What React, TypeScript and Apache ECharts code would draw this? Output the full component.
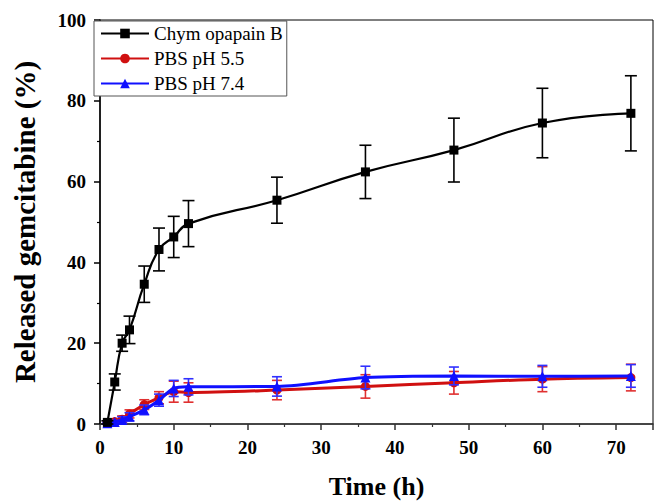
import React, { useEffect, useRef } from "react";
import * as echarts from "echarts";

const times = [1, 2, 3, 4, 6, 8, 10, 12, 24, 36, 48, 60, 72];
const chymo = [0.4, 10.4, 20, 23.3, 34.6, 43.2, 46.3, 49.6, 55.4, 62.4, 67.8, 74.5, 76.9];
const chymoErr = [0.4, 2, 2, 3.4, 4.5, 5.3, 5.1, 5.7, 5.7, 6.6, 7.9, 8.6, 9.3];
const ph55 = [0.3, 0.6, 1.2, 2.5, 4.8, 6.5, 8.0, 7.8, 8.4, 9.3, 10.2, 11.1, 11.5];
const ph55Err = [0.3, 0.5, 0.8, 1, 1.2, 1.5, 2.6, 2.4, 2.4, 2.9, 2.8, 3.1, 3.3];
const ph74 = [0.2, 0.5, 1.0, 1.8, 3.5, 5.9, 8.8, 9.2, 9.3, 11.5, 11.9, 11.8, 11.9];
const ph74Err = [0.2, 0.4, 0.8, 1, 1.2, 1.5, 2, 2, 2.4, 2.8, 2.2, 2.7, 2.8];
const names = ["Chym opapain B", "PBS pH 5.5", "PBS pH 7.4"];
const colors = ["#000000", "#d01010", "#1010ff"];

const FONT = "Liberation Serif";

function errSeries(vals: number[], errs: number[], color: string, cap: number, z: number) {
  return {
    type: "custom",
    name: "err",
    z,
    silent: true,
    data: times.map((t, i) => [t, vals[i] - errs[i], vals[i] + errs[i]]),
    encode: { x: 0, y: [1, 2] },
    renderItem: (params: any, api: any) => {
      const x = api.value(0);
      const lo = api.coord([x, api.value(1)]);
      const hi = api.coord([x, api.value(2)]);
      const st = { stroke: color, lineWidth: 1.6 };
      return {
        type: "group",
        children: [
          { type: "line", shape: { x1: lo[0], y1: lo[1], x2: hi[0], y2: hi[1] }, style: st },
          { type: "line", shape: { x1: lo[0] - cap, y1: lo[1], x2: lo[0] + cap, y2: lo[1] }, style: st },
          { type: "line", shape: { x1: hi[0] - cap, y1: hi[1], x2: hi[0] + cap, y2: hi[1] }, style: st },
        ],
      };
    },
  };
}

export default function App() {
  const ref = useRef<HTMLDivElement>(null);
  useEffect(() => {
    const chart = echarts.init(ref.current!, null, { renderer: "svg" });
    const axisLabel = {
      fontFamily: FONT,
      fontWeight: "bold",
      fontSize: 19,
      color: "#000",
      margin: 14,
      showMaxLabel: false,
    };
    chart.setOption({
      animation: false,
      backgroundColor: "#fff",
      textStyle: { fontFamily: FONT },
      grid: { left: 100, right: 1, top: 20, bottom: 77, show: true, borderColor: "#000", borderWidth: 1 },
      legend: {
        data: names,
        orient: "vertical",
        left: 94,
        top: 21,
        padding: [3, 4, 3, 6],
        itemGap: 6,
        itemWidth: 48,
        itemHeight: 12,
        borderColor: "#555",
        borderWidth: 1,
        backgroundColor: "#fff",
        textStyle: { fontFamily: FONT, fontSize: 19, color: "#000" },
      },
      xAxis: {
        type: "value",
        min: 0,
        max: 75,
        interval: 10,
        name: "Time (h)",
        nameLocation: "middle",
        nameGap: 49,
        nameTextStyle: { fontFamily: FONT, fontWeight: "bold", fontSize: 26, color: "#000" },
        axisLine: { onZero: false, lineStyle: { color: "#333", width: 1.5 } },
        axisTick: { length: 6, lineStyle: { color: "#333", width: 1.5 } },
        minorTick: { show: true, splitNumber: 2, length: 3, lineStyle: { color: "#333", width: 1.2 } },
        splitLine: { show: false },
        axisLabel,
      },
      yAxis: {
        type: "value",
        min: 0,
        max: 100,
        interval: 20,
        name: "Released gemcitabine (%)",
        nameLocation: "middle",
        nameGap: 61,
        nameTextStyle: { fontFamily: FONT, fontWeight: "bold", fontSize: 29, color: "#000" },
        axisLine: { show: true, onZero: false, lineStyle: { color: "#000", width: 1.5 } },
        axisTick: { length: 6, lineStyle: { color: "#000", width: 1.5 } },
        minorTick: { show: true, splitNumber: 2, length: 3, lineStyle: { color: "#000", width: 1.2 } },
        splitLine: { show: false },
        axisLabel: { ...axisLabel, showMaxLabel: true },
      },
      series: [
        errSeries(ph55, ph55Err, "#e03030", 5, 2),
        {
          type: "line",
          name: names[1],
          data: times.map((t, i) => [t, ph55[i]]),
          color: colors[1],
          smooth: 0.3,
          symbol: "circle",
          symbolSize: 9,
          lineStyle: { width: 3 },
          z: 3,
        },
        errSeries(ph74, ph74Err, "#3030ff", 5, 4),
        {
          type: "line",
          name: names[2],
          data: times.map((t, i) => [t, ph74[i]]),
          color: colors[2],
          smooth: 0.3,
          symbol: "triangle",
          symbolSize: 10,
          lineStyle: { width: 3 },
          z: 5,
        },
        errSeries(chymo, chymoErr, "#000", 6, 6),
        {
          type: "line",
          name: names[0],
          data: times.map((t, i) => [t, chymo[i]]),
          color: colors[0],
          smooth: true,
          symbol: "rect",
          symbolSize: 9,
          lineStyle: { width: 2.2 },
          z: 7,
        },
      ],
    });
    return () => chart.dispose();
  }, []);
  return <div ref={ref} style={{ width: 654, height: 504, position: "absolute", left: 0, top: 0 }} />;
}
